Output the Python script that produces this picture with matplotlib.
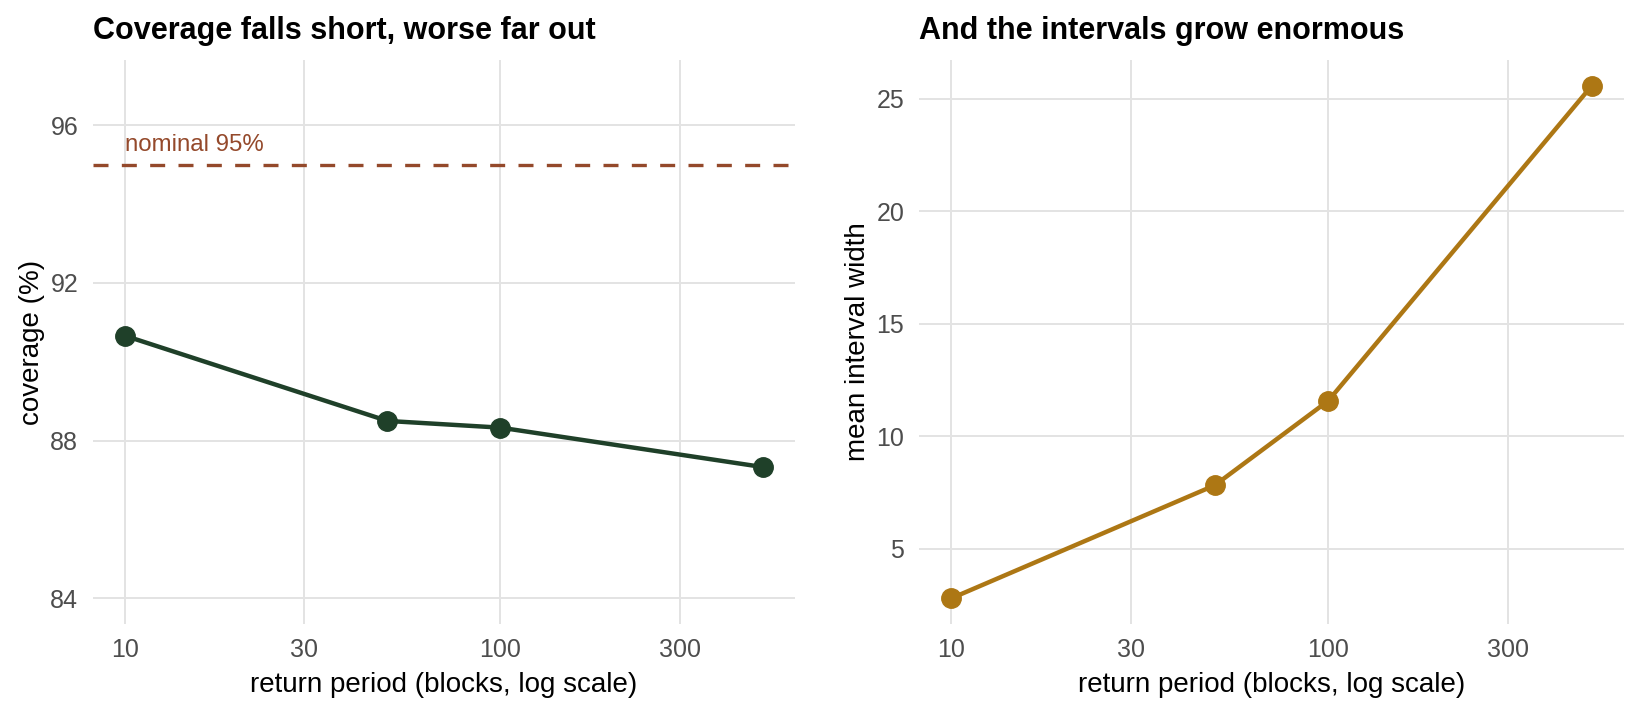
import numpy as np
import matplotlib
matplotlib.use("Agg")
import matplotlib.pyplot as plt
from matplotlib.ticker import FixedLocator, FixedFormatter, NullLocator

plt.rcParams['font.family'] = ['Liberation Sans', 'DejaVu Sans']

# data
return_period = [10, 50, 100, 500]
coverage_pct = [90.66, 88.50, 88.33, 87.33]
interval_width = [2.78, 7.81, 11.57, 25.59]
nominal = 95.0

GREEN = "#1f4029"
GOLD = "#ad7714"
RUST = "#94492b"
GRID = "#e3e3e3"
TICK = "#4d4d4d"

xticks = [10, 30, 100, 300]


def style_axis(ax):
    ax.set_xscale("log")
    for s in ax.spines.values():
        s.set_visible(False)
    ax.xaxis.set_major_locator(FixedLocator(xticks))
    ax.xaxis.set_major_formatter(FixedFormatter([str(t) for t in xticks]))
    ax.xaxis.set_minor_locator(NullLocator())
    ax.yaxis.set_minor_locator(NullLocator())
    ax.grid(True, color=GRID, linewidth=1.4)
    ax.set_axisbelow(True)
    ax.tick_params(axis="x", length=0, labelsize=18, labelcolor=TICK, pad=10)
    ax.tick_params(axis="y", length=0, labelsize=18, labelcolor=TICK, pad=10.5)
    lo, hi = np.log10(return_period[0]), np.log10(return_period[-1])
    pad = 0.05 * (hi - lo)
    ax.set_xlim(10 ** (lo - pad), 10 ** (hi + pad))
    ax.set_xlabel("return period (blocks, log scale)", fontsize=20, labelpad=7)


fig = plt.figure(figsize=(16.51, 7.10), dpi=100)
ax1 = fig.add_axes([0.0563, 0.121, 0.4252, 0.7945])
ax2 = fig.add_axes([0.5566, 0.121, 0.4270, 0.7945])

# left: coverage
style_axis(ax1)
ax1.axhline(nominal, color=RUST, linewidth=2.4, dashes=(4.5, 4))
ax1.text(10, nominal + 0.22, "nominal 95%", color=RUST, fontsize=17.3, ha="left", va="bottom")
ax1.plot(return_period, coverage_pct, color=GREEN, linewidth=3.2, marker="o",
         markersize=14, zorder=3)
ax1.set_yticks([84, 88, 92, 96])
ax1.set_ylim(83.35, 97.65)
ax1.set_ylabel("coverage (%)", fontsize=20, labelpad=4)
ax1.set_title("Coverage falls short, worse far out", loc="left", fontsize=22,
              fontweight="bold", pad=15)

# right: interval width
style_axis(ax2)
ax2.plot(return_period, interval_width, color=GOLD, linewidth=3.2, marker="o",
         markersize=14, zorder=3)
ax2.set_yticks([5, 10, 15, 20, 25])
lo, hi = min(interval_width), max(interval_width)
pad = 0.05 * (hi - lo)
ax2.set_ylim(lo - pad, hi + pad)
ax2.set_ylabel("mean interval width", fontsize=20, labelpad=4)
ax2.set_title("And the intervals grow enormous", loc="left", fontsize=22,
              fontweight="bold", pad=15)

fig.savefig("out.png", dpi=100, facecolor="white")
